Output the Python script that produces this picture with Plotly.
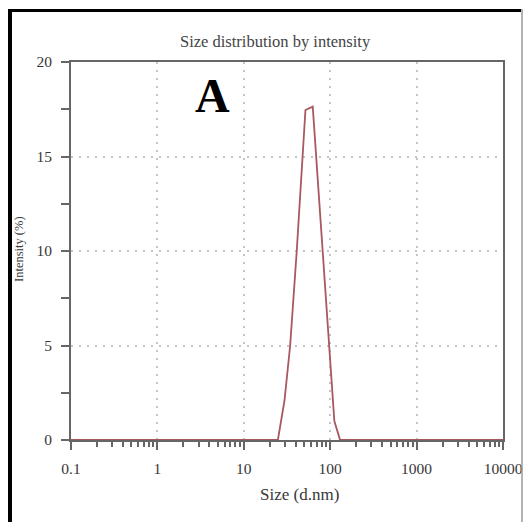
import plotly.graph_objects as go

# ---- data ----
size_nm = [0.1, 24.8, 29.6, 34.4, 41.0, 48.1, 51.7, 62.8, 68.7, 81.9, 97.9, 111.7, 130.0, 10000]
intensity_pct = [0, 0, 2.1, 5.0, 10.0, 15.0, 17.46, 17.64, 15.0, 10.0, 5.0, 1.0, 0, 0]

x_major = [0.1, 1, 10, 100, 1000, 10000]
x_major_text = ["0.1", "1", "10", "100", "1000", "10000"]
x_minor = [m * d for d in [0.1, 1, 10, 100, 1000] for m in range(2, 10)]
y_major = [0, 5, 10, 15, 20]

title_text = "Size distribution by intensity"
x_title = "Size (d.nm)"
y_title = "Intensity (%)"
panel_label = "A"

# ---- layout geometry (window pixels) ----
W, H = 525, 522
L, R, T, B = 71, 22, 62, 82
PW, PH = W - L - R, H - T - B


def px(x):
    return (x - L) / PW


def py(y):
    return (H - B - y) / PH


SERIF = "Liberation Serif, Times New Roman, serif"
AXIS_COL = "#666666"
TEXT_COL = "#383838"
GRID_COL = "#c4c4c4"

fig = go.Figure()
fig.add_trace(go.Scatter(
    x=size_nm, y=intensity_pct, mode="lines",
    line=dict(color="#a8585e", width=1.8),
    cliponaxis=False, showlegend=False, hoverinfo="skip",
))

fig.update_layout(
    width=W, height=H,
    margin=dict(l=L, r=R, t=T, b=B, autoexpand=False),
    paper_bgcolor="white", plot_bgcolor="white",
    font=dict(family=SERIF, color=TEXT_COL, size=15),
    showlegend=False,
)

fig.update_xaxes(
    type="log", range=[-1, 4], automargin=False,
    tickmode="array", tickvals=x_major, ticktext=x_major_text,
    ticks="outside", ticklen=8, tickwidth=1.5, tickcolor=AXIS_COL,
    ticklabelstandoff=5,
    tickfont=dict(family=SERIF, size=15.5, color=TEXT_COL),
    showline=True, linecolor=AXIS_COL, linewidth=2, mirror=True,
    showgrid=True, gridcolor=GRID_COL, gridwidth=2, griddash="2px,6px",
    zeroline=False, layer="below traces",
    minor=dict(tickmode="array", tickvals=x_minor, ticks="outside",
               ticklen=5, tickwidth=1.5, tickcolor=AXIS_COL, showgrid=False),
)

fig.update_yaxes(
    range=[0, 20], automargin=False,
    tickmode="array", tickvals=y_major,
    ticks="outside", ticklen=8, tickwidth=1.5, tickcolor=AXIS_COL,
    ticklabelstandoff=6,
    tickfont=dict(family=SERIF, size=15.5, color=TEXT_COL),
    showline=True, linecolor=AXIS_COL, linewidth=2, mirror=True,
    showgrid=True, gridcolor=GRID_COL, gridwidth=2, griddash="2px,6px",
    zeroline=False, layer="below traces",
    minor=dict(dtick=2.5, ticks="outside", ticklen=8, tickwidth=1.5,
               tickcolor=AXIS_COL, showgrid=False),
)

# texts
fig.add_annotation(text=title_text, xref="paper", yref="paper",
                   x=px(275), y=py(42), showarrow=False,
                   xanchor="center", yanchor="middle",
                   font=dict(family=SERIF, size=16.5, color="#444444"))
fig.add_annotation(text=x_title, xref="paper", yref="paper",
                   x=px(299), y=py(494), showarrow=False,
                   xanchor="center", yanchor="middle",
                   font=dict(family=SERIF, size=17, color=TEXT_COL))
fig.add_annotation(text=y_title, xref="paper", yref="paper",
                   x=px(19), y=py(249), showarrow=False, textangle=-90,
                   xanchor="center", yanchor="middle",
                   font=dict(family=SERIF, size=12.5, color=TEXT_COL))
fig.add_annotation(text="<b>" + panel_label + "</b>", xref="paper", yref="paper",
                   x=px(212), y=py(95), showarrow=False,
                   xanchor="center", yanchor="middle",
                   font=dict(family=SERIF, size=48, color="black"))

# outer frame of the picture
fig.add_shape(type="rect", xref="paper", yref="paper",
              x0=px(8), x1=px(12), y0=py(H + 5), y1=py(9),
              line=dict(width=0), fillcolor="black", layer="above")
fig.add_shape(type="rect", xref="paper", yref="paper",
              x0=px(8), x1=px(521), y0=py(12), y1=py(9),
              line=dict(width=0), fillcolor="black", layer="above")
fig.add_shape(type="line", xref="paper", yref="paper",
              x0=px(522), x1=px(522), y0=py(9), y1=py(H + 5),
              line=dict(width=1.5, color="#9a9a9a"), layer="above")

page_css = ("document.body.style.margin='0';"
            "document.body.style.overflow='hidden';"
            "document.documentElement.style.overflow='hidden';")
fig.write_html("out.html", post_script=page_css,
               config={"displayModeBar": False})
